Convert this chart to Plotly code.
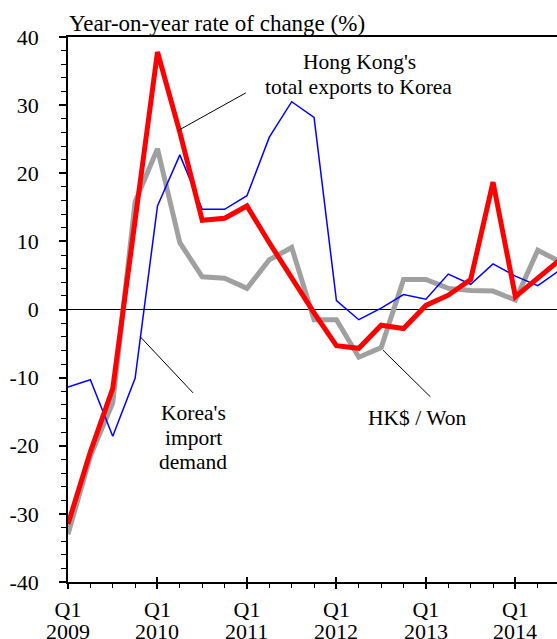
import plotly.graph_objects as go

# ---- data (quarterly, Q1 2009 .. Q3 2014) ----
quarter_index = list(range(23))
hk_exports_to_korea = [-31.5, -20.9, -11.6, 13.0, 37.8, 26.0, 13.1, 13.4, 15.2, 9.8, 4.6, -0.5,
                       -5.3, -5.7, -2.3, -2.8, 0.6, 2.1, 4.4, 18.7, 1.9, 4.6, 7.3]
korea_import_demand = [-11.4, -10.3, -18.6, -10.1, 15.2, 22.7, 14.7, 14.7, 16.7, 25.3, 30.5, 28.2,
                       1.3, -1.5, 0.2, 2.2, 1.5, 5.2, 3.7, 6.7, 4.9, 3.5, 5.8]
hkd_per_won = [-33.0, -21.5, -13.7, 15.8, 23.6, 9.8, 4.8, 4.6, 3.1, 7.3, 9.1, -1.5,
               -1.5, -7.0, -5.6, 4.4, 4.4, 3.1, 2.8, 2.7, 1.4, 8.7, 7.0]
year_tick_index = [0, 4, 8, 12, 16, 20]
year_labels = ["2009", "2010", "2011", "2012", "2013", "2014"]
quarter_label = "Q1"
y_tick_vals = [-40, -30, -20, -10, 0, 10, 20, 30, 40]
y_tick_text = ["-40", "-30", "-20", "-10", "0", "10", "20", "30", "40"]

# annotation texts (one entry per line) with anchor positions in data units
label_lines = [
    ("Hong Kong's", 13.02, 36.3),
    ("total exports to Korea", 12.99, 32.6),
    ("Korea's", 5.6, -15.25),
    ("import", 5.6, -18.9),
    ("demand", 5.6, -22.45),
    ("HK$ / Won", 15.6, -15.9),
]
leader_lines = [
    ((4.94, 26.3), (7.95, 31.8)),
    ((3.23, -4.0), (5.59, -12.24)),
    ((14.08, -5.97), (16.2, -12.82)),
]

FONT = "Liberation Serif, Times New Roman, serif"

fig = go.Figure()
fig.add_trace(go.Scatter(x=quarter_index, y=hkd_per_won, mode="lines",
                         line=dict(color="#A0A0A0", width=5), name="HK$ / Won"))
fig.add_trace(go.Scatter(x=quarter_index, y=korea_import_demand, mode="lines",
                         line=dict(color="#0000FF", width=1.5), name="Korea's import demand"))
fig.add_trace(go.Scatter(x=quarter_index, y=hk_exports_to_korea, mode="lines",
                         line=dict(color="#FF0000", width=5), name="Hong Kong's total exports to Korea"))
# invisible trace to activate overlay axis (inner half of crossing ticks)
fig.add_trace(go.Scatter(x=quarter_index, y=hk_exports_to_korea, xaxis="x2", mode="lines",
                         line=dict(width=0), hoverinfo="skip", showlegend=False, opacity=0))

x_max = 489 / 22.37

fig.update_layout(
    width=557, height=639,
    margin=dict(l=68, r=0, t=37, b=57),
    paper_bgcolor="white", plot_bgcolor="white",
    showlegend=False,
    font=dict(family=FONT, size=22, color="black"),
    xaxis=dict(range=[0, x_max], showgrid=False, zeroline=False, automargin=False,
               showline=True, linecolor="black", linewidth=1.5, mirror=True,
               tickvals=year_tick_index, ticktext=[quarter_label] * len(year_tick_index),
               ticks="outside", ticklen=5, tickwidth=1.5, tickcolor="black",
               ticklabelstandoff=2,
               minor=dict(dtick=1, tick0=0, ticks="outside", ticklen=4, tickwidth=1.2, tickcolor="black"),
               tickfont=dict(family=FONT, size=22, color="black")),
    xaxis2=dict(overlaying="x", matches="x", anchor="y", side="bottom", automargin=False,
                range=[0, x_max], showgrid=False, zeroline=False, showline=False,
                tickvals=year_tick_index, showticklabels=False,
                ticks="inside", ticklen=5, tickwidth=1.5, tickcolor="black"),
    yaxis=dict(range=[-40, 40], showgrid=False, zeroline=True, zerolinecolor="black",
               zerolinewidth=1.2, showline=True, linecolor="black", linewidth=1.5, automargin=False,
               tickvals=y_tick_vals, ticktext=y_tick_text,
               ticks="outside", ticklen=7, tickwidth=1.5, tickcolor="black",
               ticklabelstandoff=16,
               minor=dict(dtick=2, ticks="outside", ticklen=5, tickwidth=1.2, tickcolor="black"),
               tickfont=dict(family=FONT, size=22, color="black")),
)

annotations = [dict(text="Year-on-year rate of change (%)", xref="paper", yref="paper",
                    x=0, y=1, xanchor="left", yanchor="bottom", showarrow=False,
                    font=dict(family=FONT, size=23, color="black"), borderpad=0)]
for idx, yr in zip(year_tick_index, year_labels):
    annotations.append(dict(text=yr, xref="x", yref="paper", x=idx, y=-0.091,
                            xanchor="center", yanchor="middle", showarrow=False,
                            font=dict(family=FONT, size=22, color="black")))
for txt, xx, yy in label_lines:
    annotations.append(dict(text=txt, xref="x", yref="y", x=xx, y=yy,
                            xanchor="center", yanchor="middle", showarrow=False,
                            font=dict(family=FONT, size=21.5, color="black")))
fig.update_layout(annotations=annotations)

for (x0, y0), (x1, y1) in leader_lines:
    fig.add_shape(type="line", xref="x", yref="y", x0=x0, y0=y0, x1=x1, y1=y1,
                  line=dict(color="black", width=1))

fig.write_html("out.html", config={"displayModeBar": False},
               post_script="document.body.style.margin='0';document.body.style.overflow='hidden';")
